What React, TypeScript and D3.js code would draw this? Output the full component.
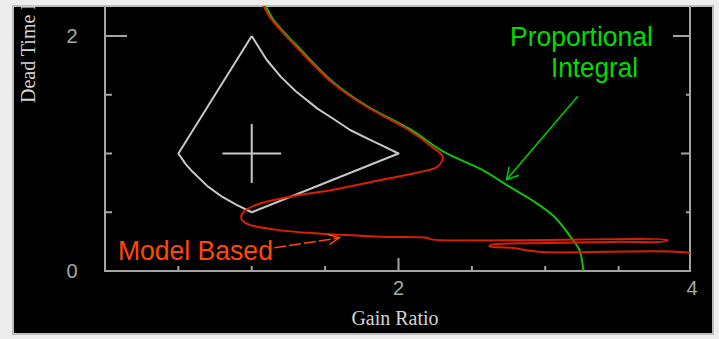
import React from 'react';
import * as d3 from 'd3';

// Proportional Integral stability boundary (gain ratio, dead time ratio)
const piGain = [1.04, 1.089, 1.144, 1.329, 1.555, 1.788, 2.082, 2.3, 2.58, 2.767, 2.925, 3.062, 3.178, 3.233, 3.26];
const piDead = [2.33, 2.265, 2.145, 1.889, 1.607, 1.402, 1.205, 1.02, 0.855, 0.709, 0.59, 0.462, 0.282, 0.179, 0.0];

// Model Based stability boundary
const mbGain = [1.025, 1.075, 1.132, 1.318, 1.545, 1.778, 2.07, 2.233, 2.301, 2.267, 2.13, 1.897, 1.555, 1.26, 1.034, 0.938, 0.932, 0.986, 1.171, 1.377, 1.603, 1.877, 2.199, 2.22, 3.836, 3.8, 3.493, 3.0, 2.63, 2.62, 2.767, 2.979, 3.98, 4.03];
const mbDead = [2.33, 2.265, 2.145, 1.889, 1.607, 1.402, 1.2, 1.051, 0.974, 0.889, 0.838, 0.778, 0.692, 0.632, 0.564, 0.496, 0.436, 0.393, 0.35, 0.325, 0.308, 0.291, 0.282, 0.269, 0.265, 0.25, 0.248, 0.239, 0.222, 0.21, 0.197, 0.162, 0.154, 0.12];

// process uncertainty region
const regionGain = [1.0, 1.1, 1.2, 1.3, 1.45, 1.55, 1.67, 1.8, 1.9, 2.0, 1.0, 0.9, 0.8, 0.7, 0.6, 0.55, 0.5, 1.0];
const regionDead = [2.0, 1.8, 1.65, 1.53, 1.38, 1.3, 1.2, 1.12, 1.06, 1.0, 0.5, 0.56, 0.63, 0.72, 0.84, 0.91, 1.0, 2.0];
const nominal = { gain: 1, dead: 1, dGain: 0.2, dDead: 0.25 };

const xMinor = [0.5, 1, 1.5, 2.5, 3, 3.5];
const xMajor = [2];
const xLabels = [2, 4];
const yMinor = [0.5, 1, 1.5];
const yMajor = [2];
const yLabels = [0, 2];

const W = 719;
const H = 339;

export default function App() {
  const x = d3.scaleLinear().domain([0, 4]).range([105, 692]);
  const y = d3.scaleLinear().domain([0, 2]).range([271, 36]);
  const top = 6;
  const x0 = x(0), x1 = 690, yb = y(0);

  const line = d3
    .line<[number, number]>()
    .x((d) => x(d[0]))
    .y((d) => y(d[1]))
    .curve(d3.curveCatmullRom.alpha(0.5));
  const straight = d3
    .line<[number, number]>()
    .x((d) => x(d[0]))
    .y((d) => y(d[1]));

  const piPts = piGain.map((g, i) => [g, piDead[i]] as [number, number]);
  const mbPts = mbGain.map((g, i) => [g, mbDead[i]] as [number, number]);
  const regPts = regionGain.map((g, i) => [g, regionDead[i]] as [number, number]);

  const arrow = (a: [number, number], b: [number, number], len: number, spread: number) => {
    const [ax, ay] = [x(a[0]), y(a[1])];
    const [bx, by] = [x(b[0]), y(b[1])];
    const ang = Math.atan2(ay - by, ax - bx);
    const s = (spread * Math.PI) / 180;
    return (
      `M${bx + len * Math.cos(ang - s)},${by + len * Math.sin(ang - s)}` +
      `L${bx},${by}L${bx + len * Math.cos(ang + s)},${by + len * Math.sin(ang + s)}`
    );
  };

  const axisCol = '#a4a4a4';
  const piArrow: [number, number][] = [[3.222, 1.487], [2.737, 0.778]];
  const mbArrow: [number, number][] = [[1.154, 0.197], [1.597, 0.282]];

  return (
    <svg width={W} height={H} style={{ position: 'absolute', left: 0, top: 0 }}>
      <defs>
        <clipPath id="plot">
          <rect x={x0} y={top} width={x1 - x0} height={yb - top} />
        </clipPath>
        <clipPath id="panel">
          <rect x={13} y={top} width={700} height={328} />
        </clipPath>
      </defs>
      <rect width={W} height={H} fill="#ededed" />
      <rect x={13} y={top} width={700} height={328} fill="#000" stroke="#bcbcbc" strokeWidth={2} />

      {/* axes */}
      <g stroke={axisCol} strokeWidth={2} fill="none">
        <path d={`M${x0},${top}V${yb}H${x1}V${top}`} />
        {yMinor.map((v) => (
          <line key={'yl' + v} x1={x0} x2={x0 + 7} y1={y(v)} y2={y(v)} />
        ))}
        {yMajor.map((v) => (
          <line key={'yL' + v} x1={x0} x2={x0 + 22} y1={y(v)} y2={y(v)} />
        ))}
        {yMinor.map((v) => (
          <line key={'yr' + v} x1={x1} x2={x1 - (v === 1 ? 9 : 4)} y1={y(v)} y2={y(v)} />
        ))}
        {yMajor.map((v) => (
          <line key={'yR' + v} x1={x1} x2={x1 - 17} y1={y(v)} y2={y(v)} />
        ))}
        {xMinor.map((v) => (
          <line key={'xm' + v} x1={x(v)} x2={x(v)} y1={yb} y2={yb - 5} />
        ))}
        {xMajor.map((v) => (
          <line key={'xM' + v} x1={x(v)} x2={x(v)} y1={yb} y2={yb - 13} />
        ))}
      </g>
      <g fill="#a8a8a8" fontFamily="'Liberation Sans', Arial, sans-serif" fontSize={20}>
        {yLabels.map((v) => (
          <text key={'ly' + v} x={72} y={y(v) + 7} textAnchor="middle">{v}</text>
        ))}
        {xLabels.map((v) => (
          <text key={'lx' + v} x={Math.min(x(v), 692)} y={295} textAnchor="middle">{v}</text>
        ))}
      </g>
      <g fill="#d4d4d4" fontFamily="'Liberation Serif', 'Times New Roman', serif" fontSize={20} clipPath="url(#panel)">
        <text x={395} y={325} textAnchor="middle">Gain Ratio</text>
        <text transform={`translate(35,103) rotate(-90)`}>Dead Time Ratio</text>
      </g>

      {/* uncertainty region and nominal point */}
      <g stroke="#c8c8c8" strokeWidth={2} fill="none">
        <path d={straight(regPts) ?? ''} strokeLinejoin="round" />
        <line x1={x(nominal.gain - nominal.dGain)} x2={x(nominal.gain + nominal.dGain)} y1={y(nominal.dead)} y2={y(nominal.dead)} />
        <line x1={x(nominal.gain)} x2={x(nominal.gain)} y1={y(nominal.dead - nominal.dDead)} y2={y(nominal.dead + nominal.dDead)} />
      </g>

      {/* boundaries */}
      <g clipPath="url(#plot)" fill="none" strokeWidth={2}>
        <path d={line(piPts) ?? ''} stroke="#12c012" />
        <path d={line(mbPts) ?? ''} stroke="#d82000" />
      </g>

      {/* annotations */}
      <g fontFamily="'Liberation Sans', Arial, sans-serif" fontSize={27}>
        <text x={x(2.76)} y={y(1.915)} fill="#00dd00" textLength={143} lengthAdjust="spacingAndGlyphs">Proportional</text>
        <text x={x(3.04)} y={y(1.65)} fill="#00dd00" textLength={87} lengthAdjust="spacingAndGlyphs">Integral</text>
        <text x={x(0.088)} y={y(0.094)} fill="#ff4800" textLength={155} lengthAdjust="spacingAndGlyphs">Model Based</text>
      </g>
      <g fill="none" strokeWidth={1.5}>
        <path d={straight(piArrow) ?? ''} stroke="#00cc00" />
        <path d={arrow(piArrow[0], piArrow[1], 13, 30)} stroke="#00cc00" />
        <path d={straight(mbArrow) ?? ''} stroke="#ff4800" strokeDasharray="12 3" />
        <path d={arrow(mbArrow[0], mbArrow[1], 12, 25)} stroke="#ff4800" />
      </g>
    </svg>
  );
}
